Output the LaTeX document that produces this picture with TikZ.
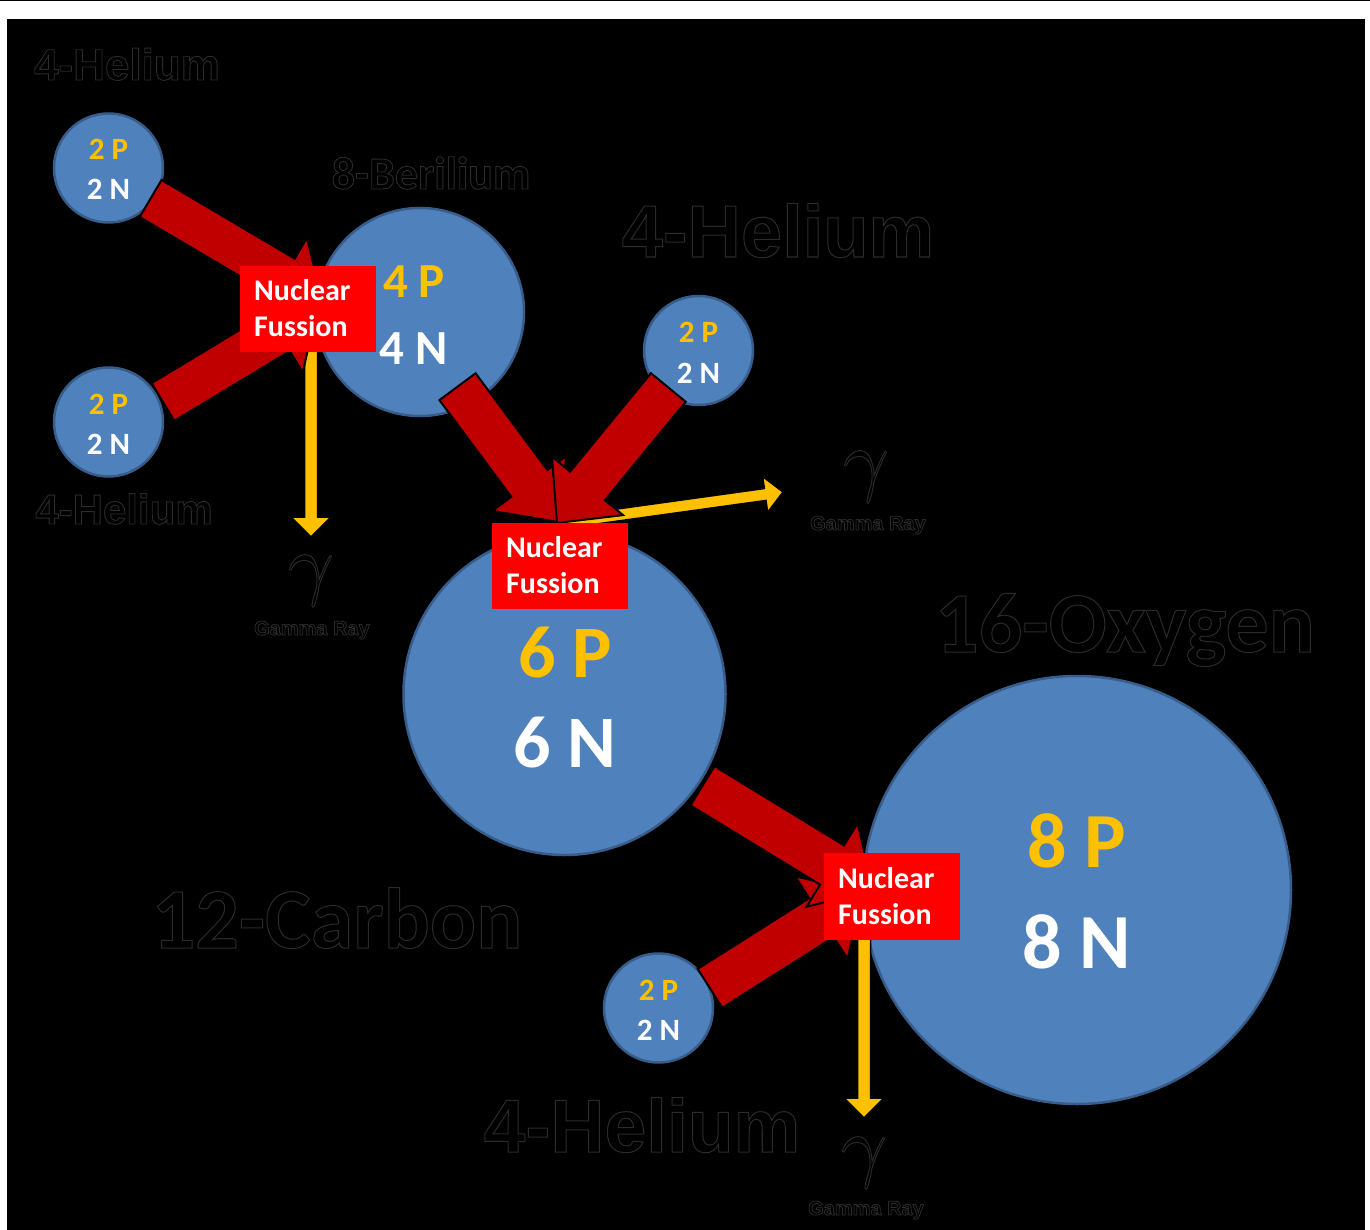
\documentclass[tikz,border=0pt]{standalone}
\usepackage{fontspec}
\usetikzlibrary{calc}
\newfontfamily\cbfont{Carlito}
\newfontfamily\lsfont{Liberation Sans}
\definecolor{atomblue}{HTML}{4F81BD}
\definecolor{atomedge}{HTML}{385D8A}
\definecolor{darkred}{HTML}{C00000}
\definecolor{gold}{HTML}{FFC000}
\definecolor{nfred}{HTML}{FF0000}
\newcommand{\outl}[2][0.9]{\special{pdf:literal direct 1 Tr #1 w 0.17 G}#2\special{pdf:literal direct 0 Tr}}
\newcommand{\blockarr}[6]{%
  \coordinate (hb) at ($(#3)!#6!(#2)$);
  \draw[#1] ($(#2)!#4!90:(#3)$) -- ($(hb)!#4!90:(#3)$) -- ($(hb)!#5!90:(#3)$) -- (#3)
    -- ($(hb)!#5!-90:(#3)$) -- ($(hb)!#4!-90:(#3)$) -- ($(#2)!#4!-90:(#3)$) -- cycle;}
\begin{document}
\begin{tikzpicture}[x=1pt,y=-1pt,
  atom/.style={circle, fill=atomblue, draw=atomedge, line width=2.5pt, inner sep=0pt, outer sep=0pt},
  redarr/.style={fill=darkred, draw=black, line width=2pt, line join=miter},
  yarr/.style={fill=gold, draw=black, line width=1.5pt, line join=miter},
  nfbox/.style={fill=nfred, draw=none, minimum width=136pt, minimum height=86pt, inner sep=0pt},
  nft/.style={anchor=base west, inner sep=0pt, text=white, font=\cbfont\bfseries\fontsize{30}{36}\selectfont},
  ptxt/.style={anchor=base, inner sep=0pt, text=gold, font=\cbfont\bfseries\fontsize{#1}{#1}\selectfont},
  ntxt/.style={anchor=base, inner sep=0pt, text=white, font=\cbfont\bfseries\fontsize{#1}{#1}\selectfont},
  labA/.style={anchor=base, inner sep=0pt, text=black, font=\lsfont\bfseries\fontsize{#1}{#1}\selectfont},
  labC/.style={anchor=base, inner sep=0pt, text=black, font=\cbfont\bfseries\fontsize{#1}{#1}\selectfont},
  gam/.style={anchor=base, inner sep=0pt, text=black, scale=8},
  gray/.style={anchor=base, inner sep=0pt, text=black, font=\lsfont\bfseries\fontsize{20}{20}\selectfont}
]
\useasboundingbox (0,0) rectangle (1370,1230);
\fill[white] (0,0) rectangle (1370,1230);
\fill[black] (7,19) rectangle (1365,1230);
\draw[black, line width=1.5pt] (0,0.75) -- (1370,0.75);

% atoms
\node[atom, minimum size=109pt] (he1) at (108.5,168) {};
\node[atom, minimum size=109pt] (he2) at (108.5,422) {};
\node[atom, minimum size=208pt] (be) at (420,312) {};
\node[atom, minimum size=109pt] (he3) at (698.5,350.5) {};
\node[atom, minimum size=322pt] (c) at (564.5,694) {};
\node[atom, minimum size=109pt] (he4) at (658.5,1008) {};
\node[atom, minimum size=428pt] (o) at (1077,890) {};

% yellow gamma arrows
\coordinate (y1s) at (311,345); \coordinate (y1e) at (311,537);
\coordinate (y2s) at (560,523); \coordinate (y2e) at (783,492);
\coordinate (y3s) at (864,930); \coordinate (y3e) at (864,1118);
\blockarr{yarr}{y1s}{y1e}{6.5pt}{20pt}{20pt}
\blockarr{yarr}{y2s}{y2e}{6pt}{18pt}{18pt}
\blockarr{yarr}{y3s}{y3e}{6.5pt}{20pt}{20pt}

% red fusion arrows
\coordinate (a1t) at (150.6,198.5); \coordinate (a1h) at (322.5,300);
\coordinate (a2t) at (163,402);     \coordinate (a2h) at (317,309);
\coordinate (a3t) at (457.5,386.7); \coordinate (a3h) at (558,522);
\coordinate (a4t) at (668.3,387.5); \coordinate (a4h) at (557,523);
\coordinate (a5t) at (710,988.3);   \coordinate (a5h) at (862,892);
\coordinate (a6t) at (702.5,785.8); \coordinate (a6h) at (873,890);
\blockarr{redarr}{a1t}{a1h}{21.5pt}{45.5pt}{45pt}
\blockarr{redarr}{a2t}{a2h}{22pt}{47pt}{45pt}
\blockarr{redarr}{a3t}{a3h}{22.5pt}{46pt}{48pt}
\blockarr{redarr}{a4t}{a4h}{22.5pt}{46pt}{48pt}
\blockarr{redarr}{a5t}{a5h}{23pt}{49pt}{48pt}
\blockarr{redarr}{a6t}{a6h}{23pt}{49pt}{48pt}

% nuclear fusion boxes
\node[nfbox] (nf1) at (307.5,309.5) {};
\node[nfbox] (nf2) at (559.5,565.5) {};
\node[nfbox, minimum height=87pt] (nf3) at (892,896.5) {};
\node[nft] (nf1a) at (254,301) {Nuclear};
\node[nft] (nf1b) at (254,337) {Fussion};
\node[nft] (nf2a) at (506,557) {Nuclear};
\node[nft] (nf2b) at (506,593) {Fussion};
\node[nft] (nf3a) at (838,888) {Nuclear};
\node[nft] (nf3b) at (838,924) {Fussion};

% atom contents
\node[ptxt=31] (he1p) at (108.5,160) {2 P};
\node[ntxt=31] (he1n) at (108.5,200) {2 N};
\node[ptxt=31] (he2p) at (108.5,414) {2 P};
\node[ntxt=31] (he2n) at (108.5,454) {2 N};
\node[ptxt=31] (he3p) at (698.5,343) {2 P};
\node[ntxt=31] (he3n) at (698.5,383) {2 N};
\node[ptxt=31] (he4p) at (658.5,1000) {2 P};
\node[ntxt=31] (he4n) at (658.5,1040) {2 N};
\node[ptxt=49] (bep) at (414,298) {4 P};
\node[ntxt=49] (ben) at (414,364) {4 N};
\node[ptxt=74] (cp) at (565,677) {6 P};
\node[ntxt=74] (cn) at (565,767) {6 N};
\node[ptxt=78] (op) at (1077,867) {8 P};
\node[ntxt=78] (on) at (1077,968) {8 N};

% outlined labels
\node[labA=44] (l1) at (127,80) {\outl{4-Helium}};
\node[labC=46] (l2) at (431,189) {\outl{8-Berilium}};
\node[labA=74] (l3) at (778,257) {\outl[1]{4-Helium}};
\node[labA=42] (l4) at (124,524) {\outl{4-Helium}};
\node[labC=86] (l5) at (1125,652) {\outl[1]{16-Oxygen}};
\node[labC=86] (l6) at (337,948) {\outl[1]{12-Carbon}};
\node[labA=75] (l7) at (642,1152) {\outl[1]{4-Helium}};

% gamma rays
\node[gam] (g1) at (311,590) {\outl[0.12]{$\gamma$}};
\node[gam] (g2) at (866,486) {\outl[0.12]{$\gamma$}};
\node[gam] (g3) at (864,1172) {\outl[0.12]{$\gamma$}};
\node[gray] (gr1) at (312,635) {\outl[0.8]{Gamma Ray}};
\node[gray] (gr2) at (868,530) {\outl[0.8]{Gamma Ray}};
\node[gray] (gr3) at (866,1215) {\outl[0.8]{Gamma Ray}};
\end{tikzpicture}
\end{document}
